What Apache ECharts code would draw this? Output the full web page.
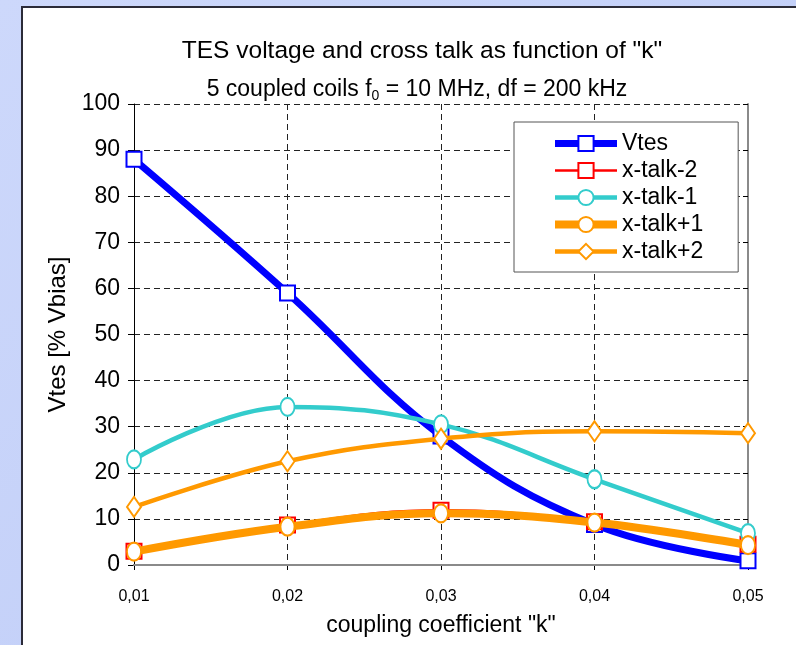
<!DOCTYPE html>
<html>
<head>
<meta charset="utf-8">
<script src="https://cdn.jsdelivr.net/npm/echarts@6/dist/echarts.min.js"></script>
<style>
html,body{margin:0;padding:0;width:796px;height:645px;overflow:hidden;}
body{background:linear-gradient(135deg,#cdd8fb 0%,#bccaf6 100%);position:relative;}
#panel{position:absolute;left:21px;top:6px;right:0;bottom:0;background:#fff;border-left:2px solid #2b2b38;border-top:2px solid #2b2b38;}
#chart{position:absolute;left:0;top:0;width:796px;height:645px;}
</style>
</head>
<body>
<div id="panel"></div>
<div id="chart"></div>
<script>
var categories = ['0,01', '0,02', '0,03', '0,04', '0,05'];
var vtes     = [88, 59, 28, 8.8, 0.9];
var xtalkM2  = [3.0, 8.7, 11.9, 9.4, 4.5];
var xtalkM1  = [22.9, 34.3, 30.5, 18.6, 6.9];
var xtalkP1  = [2.9, 8.3, 11.2, 9.2, 4.3];
var xtalkP2  = [12.6, 22.5, 27.4, 29.0, 28.6];
var legendNames = ['Vtes', 'x-talk-2', 'x-talk-1', 'x-talk+1', 'x-talk+2'];
var yTicks   = {min: 0, max: 100, interval: 10};

var FONT = 'Liberation Sans, Arial, sans-serif';
var chart = echarts.init(document.getElementById('chart'), null, {renderer: 'canvas'});

var styles = [
  {color: '#0000ff', width: 7, symbol: 'rect', size: [15, 15]},
  {color: '#ff0000', width: 2.5, symbol: 'rect', size: [15, 15]},
  {color: '#33cccc', width: 4.5, symbol: 'circle', size: [14, 18]},
  {color: '#ff9900', width: 8, symbol: 'circle', size: [14, 18]},
  {color: '#ff9900', width: 4.5, symbol: 'diamond', size: [14, 20]}
];
var dataSets = [vtes, xtalkM2, xtalkM1, xtalkP1, xtalkP2];

var series = legendNames.map(function (name, i) {
  var s = styles[i];
  return {
    name: name, type: 'line', data: dataSets[i], smooth: 0.4, z: 2 + i,
    xAxisIndex: 0, yAxisIndex: 0,
    lineStyle: {color: s.color, width: s.width},
    itemStyle: {color: '#fff', borderColor: s.color, borderWidth: 2},
    symbol: s.symbol, symbolSize: s.size, showSymbol: true,
    emphasis: {disabled: true}
  };
});

chart.setOption({
  backgroundColor: 'transparent',
  animation: false,
  title: [
    {text: 'TES voltage and cross talk as function of "k"', left: 417, top: 34, textAlign: 'center',
     textStyle: {fontFamily: FONT, fontSize: 24.5, fontWeight: 'normal', color: '#000'}},
    {text: '5 coupled coils f{sub|0} = 10 MHz, df = 200 kHz', left: 412, top: 72, textAlign: 'center',
     textStyle: {fontFamily: FONT, fontSize: 23, fontWeight: 'normal', color: '#000',
       rich: {sub: {fontFamily: FONT, fontSize: 14, color: '#000', padding: [12, 0, 0, 0]}}}}
  ],
  legend: {
    orient: 'vertical', left: 514, top: 122,
    backgroundColor: '#fff', borderColor: '#555', borderWidth: 1,
    padding: [10, 35, 9, 37],
    itemWidth: 62, itemHeight: 19, itemGap: 4,
    textStyle: {fontFamily: FONT, fontSize: 23, color: '#000'},
    data: legendNames.map(function (n, i) {
      return {name: n, lineStyle: {width: styles[i].width, color: styles[i].color}};
    })
  },
  grid: {left: 134, right: 48, top: 104, bottom: 80},
  xAxis: [{
    type: 'category', data: categories, boundaryGap: false, z: 0,
    name: 'coupling coefficient "k"', nameLocation: 'middle', nameGap: 49,
    nameTextStyle: {fontFamily: FONT, fontSize: 23, color: '#000'},
    axisLine: {lineStyle: {color: '#555', width: 2}},
    axisTick: {show: true, length: 5, lineStyle: {color: '#000'}},
    axisLabel: {fontFamily: FONT, fontSize: 16, color: '#000', margin: 24},
    splitLine: {show: true, lineStyle: {color: '#222', type: [6, 4], width: 1}}
  }, {
    type: 'category', data: categories, boundaryGap: false, position: 'top', z: 1,
    axisLine: {lineStyle: {color: '#8a8a8a', width: 2}},
    axisTick: {show: false}, axisLabel: {show: false}, splitLine: {show: false}
  }],
  yAxis: [{
    type: 'value', min: yTicks.min, max: yTicks.max, interval: yTicks.interval, z: 0,
    name: 'Vtes [% Vbias]', nameLocation: 'middle', nameGap: 57,
    nameTextStyle: {fontFamily: FONT, fontSize: 24, color: '#000'},
    axisLine: {show: true, lineStyle: {color: '#000', width: 1}},
    axisTick: {show: true, length: 6, lineStyle: {color: '#000'}},
    axisLabel: {fontFamily: FONT, fontSize: 23, color: '#000', margin: 14},
    splitLine: {show: true, lineStyle: {color: '#222', type: [6, 4], width: 1}}
  }, {
    type: 'value', min: yTicks.min, max: yTicks.max, interval: yTicks.interval, position: 'right', z: 1,
    axisLine: {show: true, lineStyle: {color: '#8a8a8a', width: 2}},
    axisTick: {show: true, inside: true, length: 5, lineStyle: {color: '#000'}},
    axisLabel: {show: false}, splitLine: {show: false}
  }],
  series: series
});
</script>
</body>
</html>
